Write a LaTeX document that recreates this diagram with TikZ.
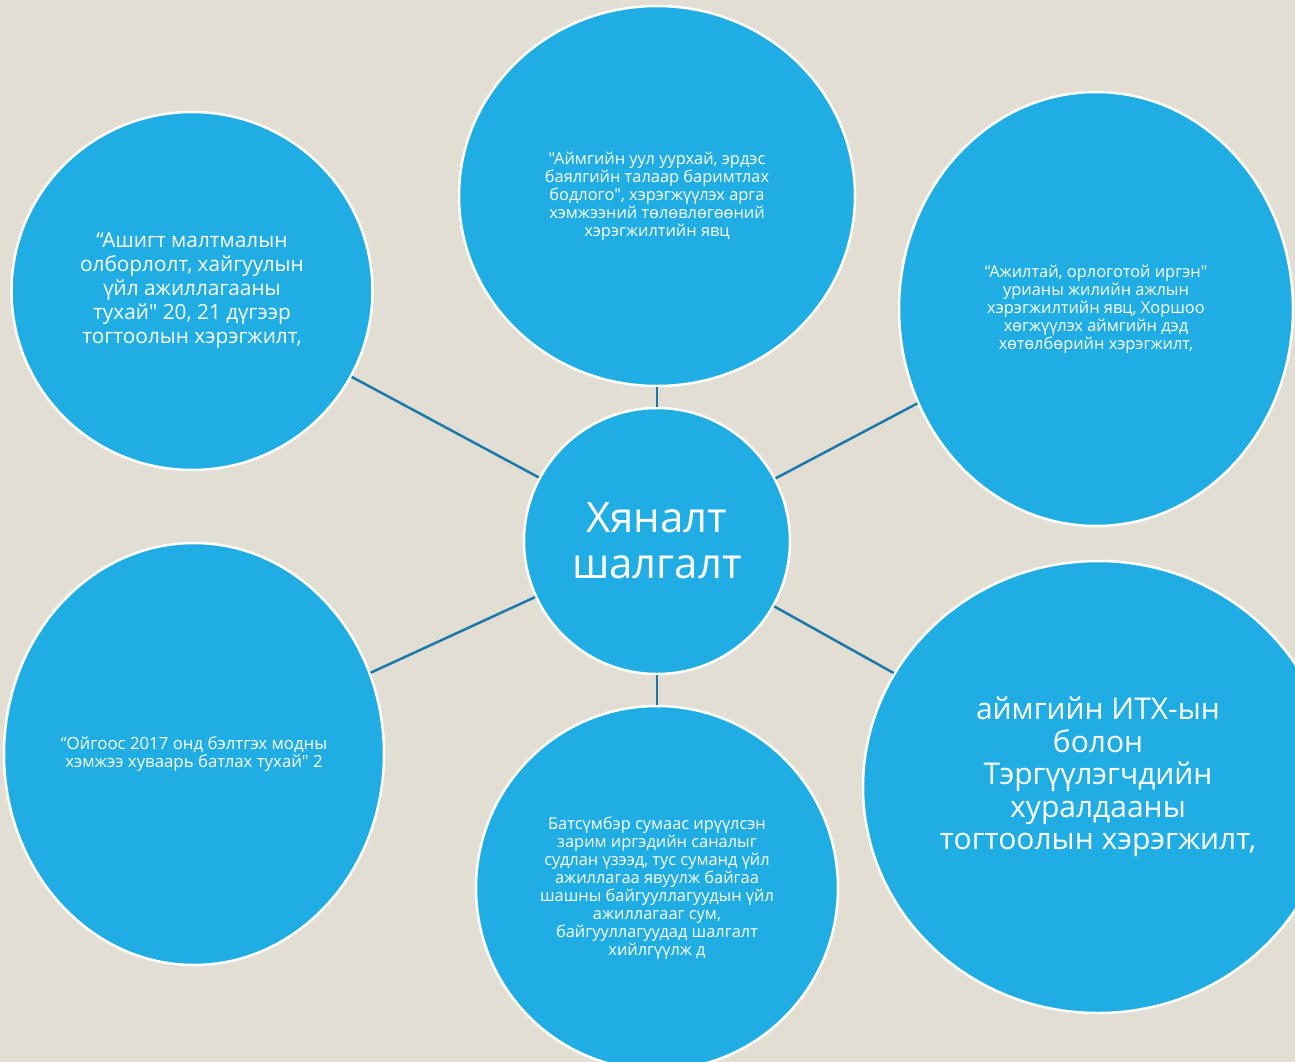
\documentclass[tikz,border=0pt]{standalone}
\usepackage{fontspec}
\setmainfont{Open Sans}[Ligatures=TeXOff]
\usetikzlibrary{shapes.geometric}
\definecolor{bgc}{RGB}{227,222,212}
\definecolor{bub}{RGB}{31,173,227}
\definecolor{lnc}{RGB}{28,122,170}
\tikzset{
  bubble/.style={ellipse, fill=bub, draw=white, line width=2.5pt, inner sep=0pt,
    text=white, align=center},
  conn/.style={draw=lnc, line width=2.5pt}
}
\begin{document}
\begin{tikzpicture}[x=1pt,y=-1pt]
\useasboundingbox (0,0) rectangle (1295,1062);
\clip (0,0) rectangle (1295,1062);
\fill[bgc] (0,0) rectangle (1295,1062);

\node[bubble, minimum width=266pt, minimum height=266pt, font=\fontsize{42}{46}\selectfont] (c) at (657,541) {Хяналт\\шалгалт};

\node[bubble, minimum width=396pt, minimum height=380pt, font=\fontsize{16.4}{18}\selectfont] (t) at (657,196)
 {"Аймгийн уул уурхай, эрдэс\\баялгийн талаар баримтлах\\бодлого", хэрэгжүүлэх арга\\хэмжээний төлөвлөгөөний\\хэрэгжилтийн явц};

\node[bubble, minimum width=361pt, minimum height=358pt, font=\fontsize{20.8}{24}\selectfont] (tl) at (192,291)
 {“Ашигт малтмалын\\олборлолт, хайгуулын\\үйл ажиллагааны\\тухай" 20, 21 дүгээр\\тогтоолын хэрэгжилт,};

\node[bubble, minimum width=394pt, minimum height=434pt, font=\fontsize{16.4}{18}\selectfont] (tr) at (1096,309)
 {“Ажилтай, орлоготой иргэн"\\урианы жилийн ажлын\\хэрэгжилтийн явц, Хоршоо\\хөгжүүлэх аймгийн дэд\\хөтөлбөрийн хэрэгжилт,};

\node[bubble, minimum width=380pt, minimum height=422pt, font=\fontsize{16.8}{17.5}\selectfont] (bl) at (194,754)
 {“Ойгоос 2017 онд бэлтгэх модны\\хэмжээ хуваарь батлах тухай" 2};

\node[bubble, minimum width=362pt, minimum height=364pt, font=\fontsize{16.4}{18}\selectfont] (b) at (657,888)
 {Батсүмбэр сумаас ирүүлсэн\\зарим иргэдийн саналыг\\судлан үзээд, тус суманд үйл\\ажиллагаа явуулж байгаа\\шашны байгууллагуудын үйл\\ажиллагааг сум,\\байгууллагуудад шалгалт\\хийлгүүлж д};

\node[bubble, minimum width=470pt, minimum height=452pt] (br) at (1098,787) {};
\node[text=white, align=center, inner sep=0pt, font=\fontsize{30}{32.5}\selectfont] (brt) at (1098,777)
 {аймгийн ИТХ-ын\\болон\\Тэргүүлэгчдийн\\хуралдааны\\тогтоолын хэрэгжилт,};

\path[conn] (c) -- (t);
\path[conn] (c) -- (tl);
\path[conn] (c) -- (tr);
\path[conn] (c) -- (bl);
\path[conn] (c) -- (b);
\path[conn] (c) -- (br);
\end{tikzpicture}
\end{document}
